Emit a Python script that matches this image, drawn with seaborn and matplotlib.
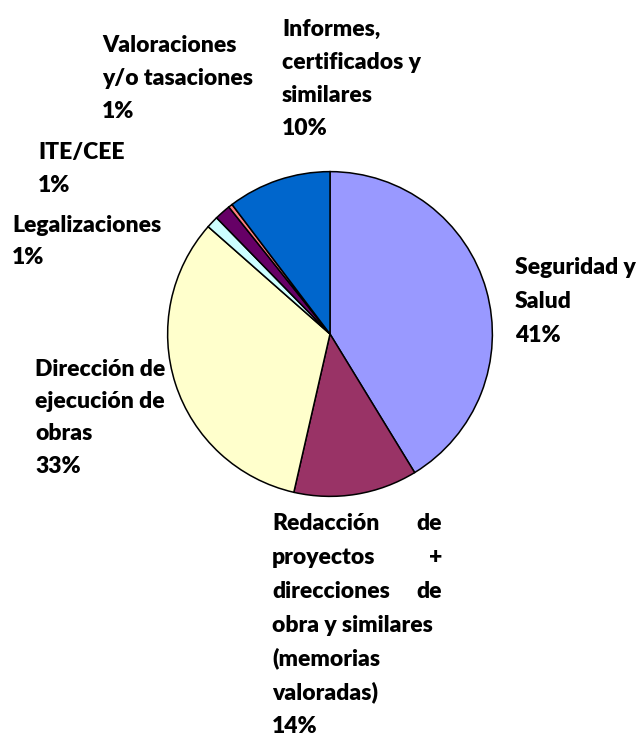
import matplotlib
matplotlib.use("Agg")
import matplotlib.pyplot as plt
import seaborn as sns

# ---- data ----
categories = [
    "Seguridad y Salud",
    "Redacción de proyectos + direcciones de obra y similares (memorias valoradas)",
    "Dirección de ejecución de obras",
    "Legalizaciones",
    "ITE/CEE",
    "Valoraciones y/o tasaciones",
    "Informes, certificados y similares",
]
shares = [41.25, 12.3, 32.9, 1.2, 1.6, 0.4, 10.3]
pct_labels = ["41%", "14%", "33%", "1%", "1%", "1%", "10%"]
colors = ["#9999FF", "#993366", "#FFFFCC", "#CCFFFF", "#660066", "#FF8080", "#0066CC"]

sns.set_theme(style="white")
plt.rcParams["font.family"] = ["Lato", "DejaVu Sans"]

W, H = 644, 736
fig = plt.figure(figsize=(W / 100, H / 100), dpi=100)
fig.patch.set_facecolor("white")

cx, cy, r = 330, 334, 164
ax = fig.add_axes([(cx - r) / W, (H - cy - r) / H, 2 * r / W, 2 * r / H])
ax.pie(shares, colors=colors, startangle=90, counterclock=False, radius=1,
       wedgeprops=dict(edgecolor="black", linewidth=1.1))
ax.set_xlim(-1.01, 1.01)
ax.set_ylim(-1.01, 1.01)
ax.set_aspect("equal")
ax.axis("off")

FS = 16.5
def put(x, y, s, ha="left"):
    fig.text(x / W, 1 - (y + 7.5) / H, s, ha=ha, va="baseline", fontsize=FS,
             fontweight="heavy", color="black", zorder=10)

def block(x, y0, lines, step=33.5):
    for i, ln in enumerate(lines):
        put(x, y0 + i * step, ln)

block(515, 267, ["Seguridad y", "Salud", pct_labels[0]])
block(35, 368, ["Dirección de", "ejecución de", "obras", pct_labels[2]], step=32.5)
block(12, 225, ["Legalizaciones", pct_labels[3]], step=32)
block(38, 151, ["ITE/CEE", pct_labels[4]], step=34)
block(102, 45, ["Valoraciones", "y/o tasaciones", pct_labels[5]], step=32.5)
block(282, 28, ["Informes,", "certificados y", "similares", pct_labels[6]], step=33.3)

# justified block for Redacción
xl, xr, y0, step = 272, 442, 523, 33.7
red_lines = [("Redacción", "de"), ("proyectos", "+"), ("direcciones", "de"),
             ("obra y similares", None), ("(memorias", None), ("valoradas)", None),
             (pct_labels[1], None)]
for i, (a, b) in enumerate(red_lines):
    y = y0 + i * step
    put(xl, y, a)
    if b is not None:
        put(xr, y, b, ha="right")

fig.savefig("out.png", dpi=100, facecolor="white")
